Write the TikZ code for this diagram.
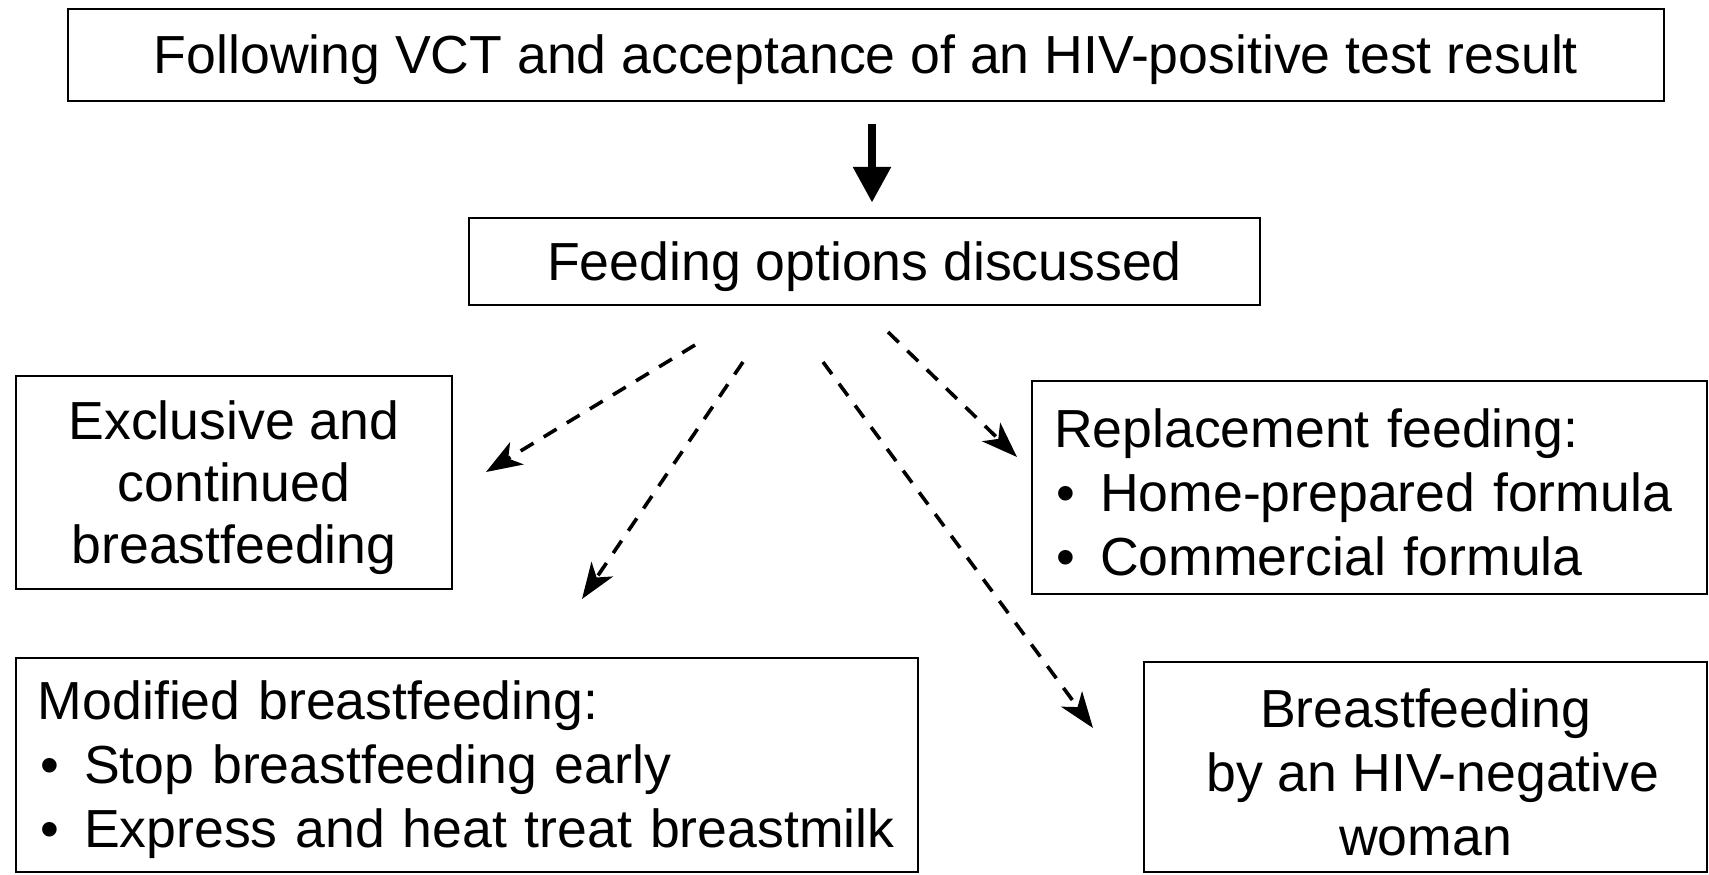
\documentclass[tikz,border=0pt]{standalone}
\usepackage{fontspec}
\setmainfont{Liberation Sans}
\usetikzlibrary{arrows.meta}
\newcommand\tstrut{\rule{0pt}{24.5pt}}
\newcommand\bul{\makebox[0.86em][l]{\kern0.05em\textbullet}}
\begin{document}
\begin{tikzpicture}[x=0.5pt,y=-0.5pt,
  box/.style={draw, line width=1.25pt, inner sep=0pt, font=\fontsize{26.8pt}{32pt}\selectfont},
  cbox/.style={box, align=center},
  lbox/.style={box, align=left, inner xsep=11pt},
  bigarrow/.style={line width=4.4pt, -{Triangle[length=18pt,width=18pt]}},
  dasharrow/.style={line width=1.8pt, dash pattern=on 7.5pt off 6pt, -{Stealth[length=18pt,width=13pt,inset=5pt]}}
]
\useasboundingbox (0,0) rectangle (1709,874);
\node[cbox, minimum width=798pt, minimum height=46pt] (top) at (866,55)
  {\tstrut Following VCT and acceptance of an HIV-positive test result};
\node[cbox, minimum width=395.5pt, minimum height=43.5pt] (feed) at (864.5,261.5)
  {\tstrut Feeding options discussed};
\node[cbox, minimum width=218pt, minimum height=106.5pt, font=\fontsize{26.8pt}{30.8pt}\selectfont] (excl) at (234,482.5)
  {\tstrut Exclusive and\\continued\\breastfeeding};
\node[lbox, minimum width=337.5pt, minimum height=106.5pt, text width=315.5pt] (repl) at (1369.5,487.5)
  {\tstrut Replacement feeding:\\\bul Home-prepared formula\\\bul Commercial formula};
\node[lbox, minimum width=451pt, minimum height=107pt, text width=429pt] (mod) at (467,765)
  {\tstrut Modified breastfeeding:\\\bul Stop breastfeeding early\\\bul Express and heat treat breastmilk};
\node[cbox, minimum width=281.5pt, minimum height=105pt] (neg) at (1425.5,767)
  {\tstrut Breastfeeding\\\ by an HIV-negative\\woman};
\draw[bigarrow, shorten <=11pt, shorten >=7pt] ([xshift=3pt]top.south) -- ([xshift=3.75pt]feed.north);
\coordinate (s1) at (695,345); \coordinate (e1) at (486,472);
\coordinate (s2) at (743,362); \coordinate (e2) at (582,599);
\coordinate (s3) at (823,362); \coordinate (e3) at (1093,728);
\coordinate (s4) at (888,332); \coordinate (e4) at (1017,457);
\draw[dasharrow] (s1) -- (e1);
\draw[dasharrow] (s2) -- (e2);
\draw[dasharrow] (s3) -- (e3);
\draw[dasharrow] (s4) -- (e4);
\end{tikzpicture}
\end{document}
